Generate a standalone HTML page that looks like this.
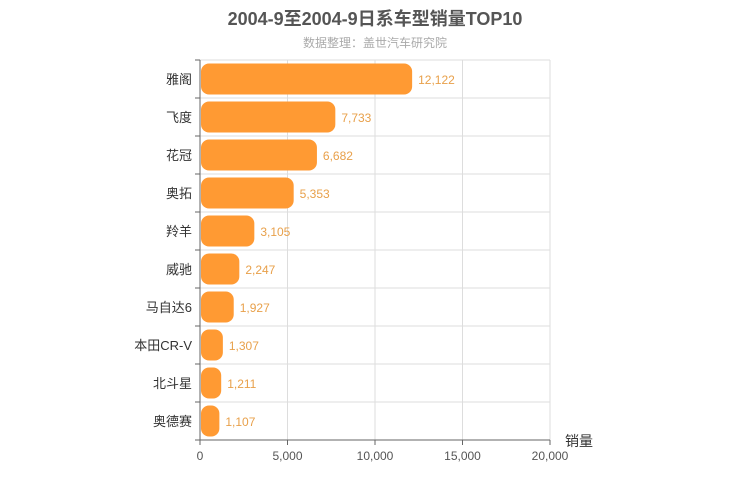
<!DOCTYPE html>
<html><head><meta charset="utf-8"><style>
body{margin:0;background:#fff;}
svg{display:block;font-family:"Liberation Sans","Noto Sans CJK SC",sans-serif;}
</style></head><body>
<svg id="chart" width="750" height="500" viewBox="0 0 750 500">
<text x="375" y="25" text-anchor="middle" font-size="18" font-weight="bold" fill="#555">2004-9至2004-9日系车型销量TOP10</text>
<text x="375" y="47" text-anchor="middle" font-size="12" fill="#aaa">数据整理：盖世汽车研究院</text>
<g id="grid"></g><g id="bars"></g><g id="axes"></g>
</svg>
<script>
const categories=["雅阁","飞度","花冠","奥拓","羚羊","威驰","马自达6","本田CR-V","北斗星","奥德赛"];
const values=[12122,7733,6682,5353,3105,2247,1927,1307,1211,1107];
const xTicks=[0,5000,10000,15000,20000];
const X0=200,X1=550,Y0=60,Y1=440,XMAX=20000;
const ns="http://www.w3.org/2000/svg";
const xs=v=>X0+(X1-X0)*v/XMAX;
const band=(Y1-Y0)/categories.length;
const ys=i=>Y0+band*i;
const fmt=v=>v.toLocaleString("en-US");
function mk(tag,attrs,parent,text){const e=document.createElementNS(ns,tag);for(const k in attrs)e.setAttribute(k,attrs[k]);if(text!==undefined)e.textContent=text;document.getElementById(parent).appendChild(e);return e;}
xTicks.forEach((t,i)=>{
 const l=mk("line",{x1:xs(t),x2:xs(t),y1:Y0,y2:Y1,stroke:"#ddd"},"grid");
 
 
 const tk=mk("line",{x1:xs(t),x2:xs(t),y1:Y1,y2:Y1+5,stroke:"#666"},"axes");
 
 
 const tx=mk("text",{x:xs(t),y:Y1+20,"text-anchor":"middle","font-size":12,fill:"#555"},"axes",fmt(t));
 
 
});
for(let i=0;i<=categories.length;i++){
 const l=mk("line",{x1:X0,x2:X1,y1:ys(i),y2:ys(i),stroke:"#ddd"},"grid");
 
 
 const tk=mk("line",{x1:X0-5,x2:X0,y1:ys(i),y2:ys(i),stroke:"#666"},"axes");
 
 
}
categories.forEach((c,i)=>{
 const yc=ys(i)+band/2;
 const w=xs(values[i])-X0-1;
 const b=mk("rect",{x:X0+1,y:yc-15.5,width:w,height:31,rx:8,ry:8,fill:"#ff9a33"},"bars");
 
 
 const v=mk("text",{x:xs(values[i])+6,y:yc+5,"font-size":12,fill:"#e8a04a"},"bars",fmt(values[i]));
 
 
 const lb=mk("text",{x:X0-8,y:yc+5,"text-anchor":"end","font-size":13,fill:"#333"},"axes",c);
 
 
});
const ya=mk("line",{x1:X0,x2:X0,y1:Y0,y2:Y1,stroke:"#666"},"axes");


const xa=mk("line",{x1:X0,x2:X1,y1:Y1,y2:Y1,stroke:"#666"},"axes");


const an=mk("text",{x:565,y:446,"font-size":14,fill:"#333"},"axes","销量");


</script>
</body></html>
